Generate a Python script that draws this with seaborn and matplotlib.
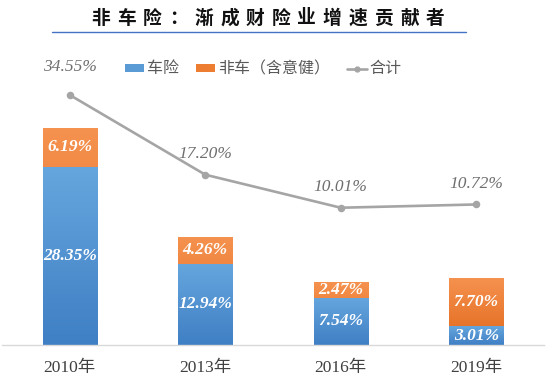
import numpy as np
import pandas as pd
import matplotlib
matplotlib.use('Agg')
import matplotlib.pyplot as plt
import seaborn as sns
from matplotlib.patches import Patch
from matplotlib.lines import Line2D
from matplotlib.colors import LinearSegmentedColormap

# data
years = ['2010年', '2013年', '2016年', '2019年']
auto = [28.35, 12.94, 7.54, 3.01]          # 车险
non_auto = [6.19, 4.26, 2.47, 7.70]        # 非车（含意健）
total = [34.55, 17.20, 10.01, 10.72]       # 合计
title = '非车险：渐成财险业增速贡献者'
legend_labels = ['车险', '非车（含意健）', '合计']

df = pd.DataFrame({'year': years, 'auto': auto, 'non_auto': non_auto, 'total': total})
df['stack'] = df['auto'] + df['non_auto']

sns.set_style('white')
plt.rcParams['font.family'] = ['Noto Sans CJK SC', 'DejaVu Sans']

blue = '#5B9BD5'
orange = '#ED7D31'
gray = '#A5A5A5'
serif = ['Liberation Serif', 'Noto Sans CJK SC']

fig = plt.figure(figsize=(5.5, 3.87), dpi=100)
ax = fig.add_axes([2 / 550, 42 / 387, 542 / 550, 270 / 387])

# stacked bars: full height in orange, car part in blue on top of it
sns.barplot(data=df, x='year', y='stack', color=orange, width=0.4, saturation=1,
            errorbar=None, ax=ax)
sns.barplot(data=df, x='year', y='auto', color=blue, width=0.4, saturation=1,
            errorbar=None, ax=ax)

# vertical gradient fill like the office chart
grad = np.linspace(0, 1, 64).reshape(-1, 1)
cm_orange = LinearSegmentedColormap.from_list('o', ['#F5924F', '#E2681C'])
cm_blue = LinearSegmentedColormap.from_list('b', ['#66A6DE', '#3F7FC4'])
for k, p in enumerate(ax.patches):
    x0, y0 = p.get_x(), p.get_y()
    x1, y1 = x0 + p.get_width(), y0 + p.get_height()
    cmap = cm_orange if k < len(years) else cm_blue
    im = ax.imshow(grad, cmap=cmap, aspect='auto', extent=(x0, x1, y0, y1),
                   origin='upper', zorder=p.get_zorder() + 0.1)
    im.set_clip_path(p)

lab_kw = dict(ha='center', va='center', color='white', fontsize=12.5,
              fontweight='bold', fontstyle='italic', family=serif, zorder=5)
for i in range(len(years)):
    ax.text(i, auto[i] / 2, f'{auto[i]:.2f}%', **lab_kw)
    ax.text(i, auto[i] + non_auto[i] / 2, f'{non_auto[i]:.2f}%', **lab_kw)

ax.set_xlim(-0.5, 3.5)
ax.set_ylim(0, 42.9)
ax.set_xlabel('')
ax.set_ylabel('')
ax.set_yticks([])
for s in ['top', 'left', 'right']:
    ax.spines[s].set_visible(False)
ax.spines['bottom'].set_color('#D9D9D9')
ax.spines['bottom'].set_linewidth(1)
ax.tick_params(axis='x', length=0, pad=11)
for t in ax.get_xticklabels():
    t.set_family(serif)
    t.set_fontsize(12.5)
    t.set_color('#404040')

# total line on its own scale
ax2 = ax.twinx()
sns.pointplot(data=df, x='year', y='total', color=gray, markers='o',
              markersize=4, linewidth=1.9, errorbar=None, ax=ax2)
ax2.set_ylim(-19.87, 38.9)
ax2.set_xlim(-0.5, 3.5)
ax2.set_yticks([])
ax2.set_ylabel('')
for s in ax2.spines.values():
    s.set_visible(False)
for i, v in enumerate(total):
    off = 20 if i == 0 else 15
    ax2.annotate(f'{v:.2f}%', (i, v), xytext=(0, off), textcoords='offset points',
                 ha='center', va='center', color='#6E6E6E', fontsize=12.5,
                 fontstyle='italic', family=serif)

# legend
handles = [Patch(facecolor=blue, edgecolor='none'),
           Patch(facecolor=orange, edgecolor='none'),
           Line2D([], [], color=gray, lw=1.9, marker='o', markersize=3.5)]
fig.legend(handles, legend_labels, loc='center', bbox_to_anchor=(263 / 550, 1 - 69 / 387),
           ncol=3, frameon=False, fontsize=11.5, handlelength=1.2, handleheight=0.45,
           handletextpad=0.15, columnspacing=1.1, labelcolor='#595959')

# title with wide letter spacing and blue underline
for i, ch in enumerate(title):
    fig.text((101 + i * 25.7) / 550, 1 - 18 / 387, ch, ha='center', va='center',
             fontsize=13.5, fontweight='bold', color='#111111')
fig.add_artist(Line2D([52 / 550, 466 / 550], [1 - 32.3 / 387] * 2,
                      color='#4472C4', lw=1))

fig.savefig('out.png', dpi=100, facecolor='white')
